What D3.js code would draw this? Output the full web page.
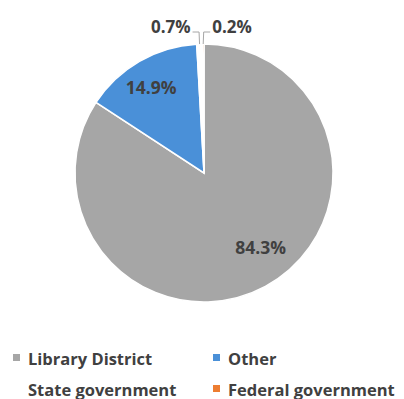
<!DOCTYPE html>
<html>
<head>
<meta charset="utf-8">
<script src="https://cdn.jsdelivr.net/npm/d3@7"></script>
<style>
  html, body { margin: 0; padding: 0; background: #ffffff; }
  svg { display: block; font-family: "Open Sans", "Liberation Sans", sans-serif; }
</style>
</head>
<body>
<svg id="chart" width="404" height="399"></svg>
<script>
// Funding sources, in drawing order clockwise from 12 o'clock
const categories = ["Library District", "Other", "State government", "Federal government"];
const shares = [84.3, 14.9, 0.7, 0.2];
const valueLabels = ["84.3%", "14.9%", "0.7%", "0.2%"];
const colors = ["#a6a6a6", "#4a90d8", "#ffffff", "#ed7d31"];

const svg = d3.select("#chart");
const cx = 204, cy = 173, r = 129;

const pie = d3.pie().value(d => d).sort(null);
const arcs = pie(shares);
const arc = d3.arc().innerRadius(0).outerRadius(r);

const g = svg.append("g").attr("transform", `translate(${cx},${cy})`);

g.selectAll("path.slice")
  .data(arcs)
  .join("path")
  .attr("class", "slice")
  .attr("d", arc)
  .attr("fill", (d, i) => colors[i])
  .attr("stroke", "#ffffff")
  .attr("stroke-width", 1.5);

const labelColor = "#404040";

// Labels inside the two large slices (radius fraction, angle nudge in radians)
const inside = [
  { i: 0, k: 0.72, nudge: -0.16 },
  { i: 1, k: 0.78, nudge: -0.03 }
];
inside.forEach(({ i, k, nudge }) => {
  const a = (arcs[i].startAngle + arcs[i].endAngle) / 2 + nudge;
  const x = Math.sin(a) * r * k, y = -Math.cos(a) * r * k;
  g.append("text")
    .attr("x", x).attr("y", y)
    .attr("text-anchor", "middle")
    .attr("dominant-baseline", "central")
    .attr("font-size", 17.5)
    .attr("font-weight", 700)
    .attr("fill", labelColor)
    .text(valueLabels[i]);
});

// Small slices: labels above the pie with bent leader lines
const leaderY = -r - 12;
[2, 3].forEach((i, k) => {
  const mid = (arcs[i].startAngle + arcs[i].endAngle) / 2;
  const px = Math.sin(mid) * r, py = -Math.cos(mid) * r;
  const side = k === 0 ? -1 : 1;
  const elbowX = px + side * 0.5;
  const endX = px + side * 7;
  g.append("path")
    .attr("d", `M${px},${py}L${elbowX},${leaderY}L${endX},${leaderY}`)
    .attr("fill", "none")
    .attr("stroke", "#a6a6a6")
    .attr("stroke-width", 1);
  g.append("text")
    .attr("x", endX + side * 2)
    .attr("y", leaderY - 6)
    .attr("text-anchor", side < 0 ? "end" : "start")
    .attr("dominant-baseline", "central")
    .attr("font-size", 17)
    .attr("font-weight", 700)
    .attr("fill", labelColor)
    .text(valueLabels[i]);
});

// Legend, two columns by two rows
const legendCols = [13, 213];
const legendRows = [358, 389];
const legend = svg.append("g");
categories.forEach((name, i) => {
  const x = legendCols[i % 2], y = legendRows[Math.floor(i / 2)];
  legend.append("rect")
    .attr("x", x).attr("y", y - 4)
    .attr("width", 7).attr("height", 7)
    .attr("fill", colors[i]);
  legend.append("text")
    .attr("x", x + 15).attr("y", y)
    .attr("dominant-baseline", "central")
    .attr("font-size", 16.5)
    .attr("font-weight", 700)
    .attr("fill", labelColor)
    .text(name);
});
</script>
</body>
</html>
